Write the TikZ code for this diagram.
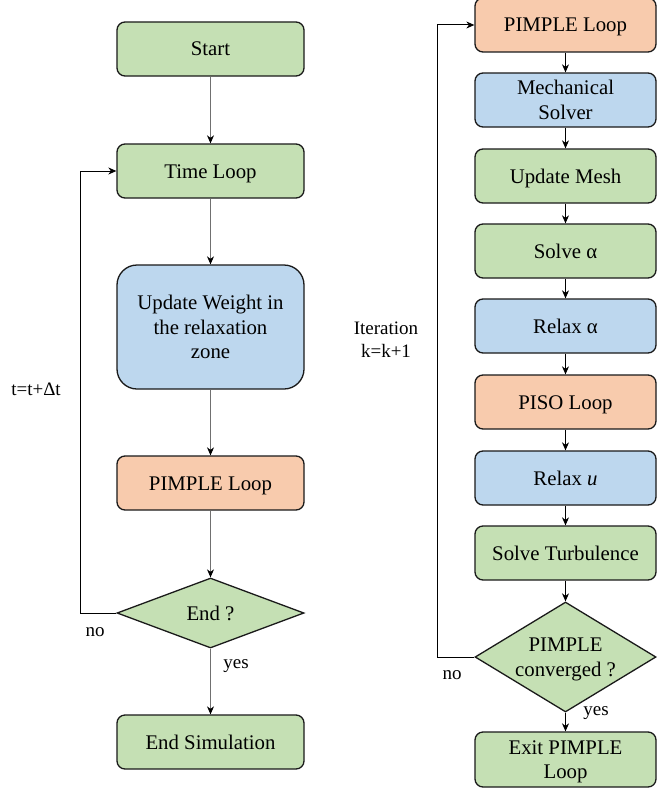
\documentclass[tikz,border=0pt]{standalone}
\usepackage{fontspec}
\setmainfont{Liberation Serif}
\newfontfamily\tnr{Liberation Serif}
\usetikzlibrary{shapes.geometric,arrows.meta}
\definecolor{gfill}{HTML}{C5E0B4}
\definecolor{bfill}{HTML}{BDD7EE}
\definecolor{ofill}{HTML}{F8CBAD}
\definecolor{edge}{HTML}{1A1A1A}
\definecolor{garrow}{HTML}{707070}
\tikzset{
  box/.style={draw=edge, line width=1.3pt, rounded corners=8pt, minimum width=187pt, minimum height=54pt, inner sep=0pt, align=center, font=\tnr\fontsize{20.8}{24.8}\selectfont},
  one/.style={text height=14pt, text depth=0pt},
  two/.style={text height=38.8pt, text depth=0pt},
  three/.style={text height=63.6pt, text depth=0pt},
  rbox/.style={box, minimum width=181pt},
  dia/.style={draw=edge, line width=1.3pt, diamond, inner sep=0pt, align=center, font=\tnr\fontsize{20.8}{24.8}\selectfont},
  lbl/.style={inner sep=0pt, align=center, font=\tnr\fontsize{19}{23}\selectfont},
  larrow/.style={draw=garrow, line width=1pt, -{Stealth[length=8pt,width=7pt,inset=2.5pt,color=black]}},
  rarrow/.style={draw=black, line width=1pt, -{Stealth[length=8pt,width=7pt,inset=2.5pt]}},
  loopline/.style={draw=black, line width=1pt, -{Stealth[length=8pt,width=7pt,inset=2.5pt]}},
}
\begin{document}
\begin{tikzpicture}[x=1pt,y=-1pt]
\useasboundingbox (0,0) rectangle (657,792);
\clip (0,0) rectangle (657,792);
\fill[white] (0,0) rectangle (657,792);
% left column
\node[box, one, fill=gfill] (start) at (210.5,49) {Start};
\node[box, one, fill=gfill] (time) at (210.5,171) {Time Loop};
\node[box, three, fill=bfill, minimum height=124pt, rounded corners=20pt] (weight) at (210.5,327) {Update Weight in\\the relaxation\\zone};
\node[box, one, fill=ofill] (pimpleL) at (210.5,483) {PIMPLE Loop};
\node[dia, one, fill=gfill, minimum width=187pt, minimum height=70pt, aspect=2.67] (endq) at (210.5,613) {End ?};
\node[box, one, fill=gfill] (endsim) at (210.5,742) {End Simulation};
\draw[larrow] (start) -- (time);
\draw[larrow] (time) -- (weight);
\draw[larrow] (weight) -- (pimpleL);
\draw[larrow] (pimpleL) -- (endq);
\draw[larrow] (endq) -- (endsim);
\coordinate (lc1) at (80,613);
\coordinate (lc2) at (80,171);
\draw[loopline] (endq.west) -- (lc1) -- (lc2) -- (time.west);
\node[lbl] (tlab) at (36,389) {t=t+Δt};
\node[lbl] (nol) at (95,632) {no};
\node[lbl] (yesl) at (236,666) {yes};
% right column
\node[rbox, one, fill=ofill] (pimpleR) at (565.5,25) {PIMPLE Loop};
\node[rbox, two, fill=bfill] (mech) at (565.5,100) {Mechanical\\Solver};
\node[rbox, one, fill=gfill] (mesh) at (565.5,176) {Update Mesh};
\node[rbox, one, fill=gfill] (solvea) at (565.5,251) {Solve α};
\node[rbox, one, fill=bfill] (relaxa) at (565.5,326) {Relax α};
\node[rbox, one, fill=ofill] (piso) at (565.5,402) {PISO Loop};
\node[rbox, one, fill=bfill] (relaxu) at (565.5,478) {Relax \textit{u}};
\node[rbox, one, fill=gfill] (turb) at (565.5,553) {Solve Turbulence};
\node[dia, two, fill=gfill, minimum width=181pt, minimum height=110pt, aspect=1.65] (conv) at (565.5,657) {PIMPLE\\converged ?};
\node[rbox, two, fill=gfill, minimum height=55pt] (exit) at (565.5,759.5) {Exit PIMPLE\\Loop};
\draw[rarrow] (pimpleR) -- (mech);
\draw[rarrow] (mech) -- (mesh);
\draw[rarrow] (mesh) -- (solvea);
\draw[rarrow] (solvea) -- (relaxa);
\draw[rarrow] (relaxa) -- (piso);
\draw[rarrow] (piso) -- (relaxu);
\draw[rarrow] (relaxu) -- (turb);
\draw[rarrow] (turb) -- (conv);
\draw[rarrow] (conv) -- (exit);
\coordinate (rc1) at (437,657);
\coordinate (rc2) at (437,25);
\draw[loopline] (conv.west) -- (rc1) -- (rc2) -- (pimpleR.west);
\node[lbl] (iter) at (386,340) {Iteration\\k=k+1};
\node[lbl] (nor) at (452,675) {no};
\node[lbl] (yesr) at (596,713) {yes};
\end{tikzpicture}
\end{document}
